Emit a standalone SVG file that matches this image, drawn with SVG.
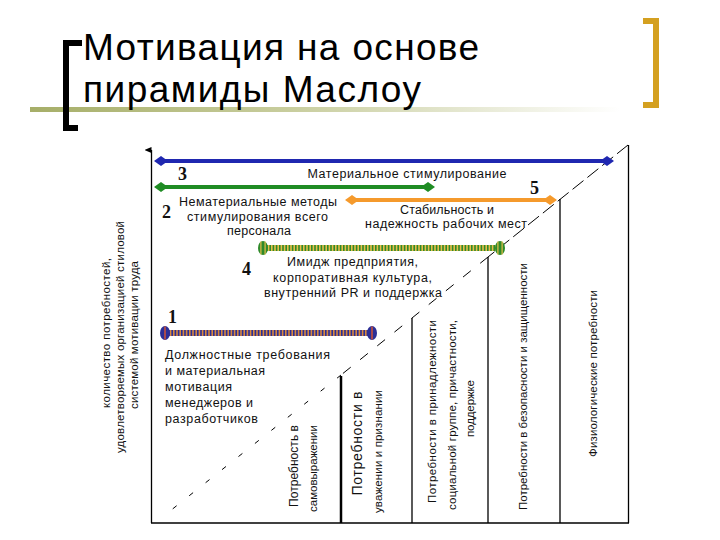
<svg xmlns="http://www.w3.org/2000/svg" width="720" height="540" viewBox="0 0 720 540">
<style>
.t{font-family:"Liberation Sans",Arial,sans-serif;font-size:12.5px;fill:#111}
.v{font-family:"Liberation Sans",Arial,sans-serif;font-size:11.5px;fill:#111}
.n{font-family:"Liberation Serif","Times New Roman",serif;font-weight:bold;font-size:18px;fill:#111}
.ttl{font-family:"Liberation Sans",Arial,sans-serif;font-size:37px;fill:#000}
.ln{stroke:#000;stroke-width:1.3;fill:none}
.dg{stroke:#000;stroke-width:1;fill:none}
</style>
<defs>
<linearGradient id="ul" x1="0" x2="1" y1="0" y2="0">
<stop offset="0" stop-color="#a6ae68"/>
<stop offset="0.45" stop-color="#c9ce9f"/>
<stop offset="1" stop-color="#ffffff"/>
</linearGradient>
<path id="dm" d="M-7,0 L0,-5 L7,0 L0,5Z"/>
<marker id="ar" markerWidth="8" markerHeight="8" refX="4" refY="7" orient="auto-start-reverse" markerUnits="userSpaceOnUse">
<path d="M1,7 L4,0 L7,7Z" fill="#000"/>
</marker>
</defs>
<rect width="720" height="540" fill="#fff"/>

<g id="title">
<rect x="30" y="107" width="590" height="5" fill="url(#ul)"/>
<path d="M82,43 L66,43 L66,128 L78,128" stroke="#000" stroke-width="6" fill="none"/>
<path d="M643,21 L656,21 L656,105 L643,105" stroke="#d4a020" stroke-width="6" fill="none"/>
<text class="ttl" x="83" y="60" textLength="396">Мотивация на основе</text>
<text class="ttl" x="83" y="101.5" textLength="338">пирамиды Маслоу</text>
</g>

<g id="axes">
<line class="ln" x1="151.5" y1="523" x2="151.5" y2="150" marker-end="url(#ar)"/>
<line class="ln" x1="151" y1="523" x2="629" y2="523"/>
<line class="ln" x1="628.5" y1="145" x2="628.5" y2="523"/>
</g>

<g id="connectors">
<path class="dg" d="M628,145 L488,257" stroke-dasharray="14 5"/>
<path class="dg" d="M488,257 L341,375" stroke-dasharray="10 12"/>
<path class="dg" d="M341,375 L165,515" stroke-dasharray="5 16"/>
<line class="ln" x1="560" y1="199" x2="560" y2="523"/>
<line class="ln" x1="488" y1="257" x2="488" y2="523"/>
<line class="ln" x1="412" y1="318" x2="412" y2="523"/>
<line x1="341" y1="376" x2="341" y2="523" stroke="#000" stroke-width="2.5"/>
</g>

<g id="left-label">
<text class="v" transform="translate(110,333) rotate(-90)" text-anchor="middle" textLength="150">количество потребностей,</text>
<text class="v" transform="translate(124,337) rotate(-90)" text-anchor="middle" textLength="232">удовлетворяемых организацией стиловой</text>
<text class="v" transform="translate(138,335) rotate(-90)" text-anchor="middle" textLength="148">системой мотивации труда</text>
</g>

<g id="band3">
<line x1="161" y1="161" x2="607" y2="161" stroke="#1f27b0" stroke-width="4"/>
<use href="#dm" x="161" y="161" fill="#1f27b0"/>
<use href="#dm" x="607" y="161" fill="#1f27b0"/>
<text class="n" x="178" y="180">3</text>
<text class="t" x="407" y="178" text-anchor="middle" textLength="199">Материальное стимулирование</text>
</g>

<g id="band2">
<line x1="161" y1="187" x2="428" y2="187" stroke="#1f8c24" stroke-width="4"/>
<use href="#dm" x="161" y="187" fill="#1f8c24"/>
<use href="#dm" x="428" y="187" fill="#1f8c24"/>
<text class="n" x="162" y="218">2</text>
<text class="t" x="258" y="206" text-anchor="middle" textLength="158">Нематериальные методы</text>
<text class="t" x="257.5" y="221" text-anchor="middle" textLength="141">стимулирования всего</text>
<text class="t" x="259" y="235" text-anchor="middle" textLength="64">персонала</text>
</g>

<g id="band5">
<line x1="352" y1="200" x2="550" y2="200" stroke="#f59a2c" stroke-width="4"/>
<use href="#dm" x="352" y="200" fill="#f59a2c"/>
<use href="#dm" x="550" y="200" fill="#f59a2c"/>
<text class="n" x="530" y="194">5</text>
<text class="t" x="447" y="214" text-anchor="middle" textLength="94">Стабильность и</text>
<text class="t" x="446" y="228" text-anchor="middle" textLength="162">надежность рабочих мест</text>
</g>

<g id="band4">
<line x1="263" y1="248" x2="500" y2="248" stroke="#e7be4a" stroke-width="6"/>
<line x1="263" y1="248" x2="500" y2="248" stroke="#2f8a2a" stroke-width="6" stroke-dasharray="1.6 1.6"/>
<g>
<ellipse cx="263" cy="248" rx="5" ry="7" fill="#2f8a2a"/>
<rect x="260.3" y="241.5" width="1.2" height="13" fill="#e7be4a"/>
<rect x="264.5" y="241.5" width="1.2" height="13" fill="#e7be4a"/>
</g>
<g>
<ellipse cx="500" cy="248" rx="5" ry="7" fill="#2f8a2a"/>
<rect x="497.3" y="241.5" width="1.2" height="13" fill="#e7be4a"/>
<rect x="501.5" y="241.5" width="1.2" height="13" fill="#e7be4a"/>
</g>
<text class="n" x="242" y="275">4</text>
<text class="t" x="352.5" y="266" text-anchor="middle" textLength="131">Имидж предприятия,</text>
<text class="t" x="352.5" y="282" text-anchor="middle" textLength="159">корпоративная культура,</text>
<text class="t" x="353" y="297" text-anchor="middle" textLength="178">внутренний PR и поддержка</text>
</g>

<g id="band1">
<line x1="165" y1="333" x2="372" y2="333" stroke="#d8883e" stroke-width="6"/>
<line x1="165" y1="333" x2="372" y2="333" stroke="#2c2f96" stroke-width="6" stroke-dasharray="1.6 1.6"/>
<g>
<ellipse cx="165" cy="333" rx="5" ry="7" fill="#2c2f96"/>
<rect x="164.2" y="326.5" width="1.6" height="13" fill="#c8503c"/>
</g>
<g>
<ellipse cx="372" cy="333" rx="5" ry="7" fill="#2c2f96"/>
<rect x="371.2" y="326.5" width="1.6" height="13" fill="#c8503c"/>
</g>
<text class="n" x="168" y="323">1</text>
<text class="t" x="165" y="359" textLength="165">Должностные требования</text>
<text class="t" x="165" y="375" textLength="100">и материальная</text>
<text class="t" x="165" y="391" textLength="67">мотивация</text>
<text class="t" x="165" y="407" textLength="88">менеджеров и</text>
<text class="t" x="165" y="423" textLength="93">разработчиков</text>
</g>

<g id="col1">
<text class="v" transform="translate(298,466) rotate(-90)" text-anchor="middle" textLength="82" style="font-size:12px">Потребность в</text>
<text class="v" transform="translate(317,468.5) rotate(-90)" text-anchor="middle" textLength="87">самовыражении</text>
</g>
<g id="col2">
<text class="v" transform="translate(362,443.5) rotate(-90)" text-anchor="middle" textLength="104" style="font-size:14px">Потребности в</text>
<text class="v" transform="translate(382,451.5) rotate(-90)" text-anchor="middle" textLength="123">уважении и признании</text>
</g>
<g id="col3">
<text class="v" transform="translate(436,411.5) rotate(-90)" text-anchor="middle" textLength="183">Потребности в принадлежности</text>
<text class="v" transform="translate(456,415) rotate(-90)" text-anchor="middle" textLength="190">социальной группе, причастности,</text>
<text class="v" transform="translate(474,408.5) rotate(-90)" text-anchor="middle" textLength="57">поддержке</text>
</g>
<g id="col4">
<text class="v" transform="translate(527,386.5) rotate(-90)" text-anchor="middle" textLength="247">Потребности в безопасности и защищенности</text>
</g>
<g id="col5">
<text class="v" transform="translate(597,373.5) rotate(-90)" text-anchor="middle" textLength="167">Физиологические потребности</text>
</g>
</svg>
